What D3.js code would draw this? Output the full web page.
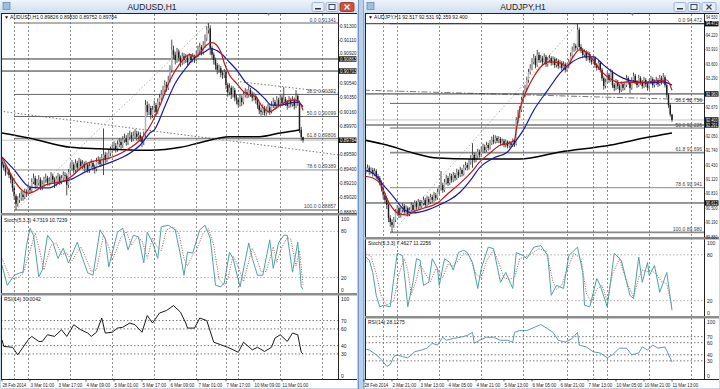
<!DOCTYPE html>
<html lang="en"><head>
<meta charset="utf-8">
<title>AUDUSD,H1 / AUDJPY,H1</title>
<script src="https://cdnjs.cloudflare.com/ajax/libs/d3/7.8.5/d3.min.js"></script>
<style>
body{margin:0;background:#c6d7ea;}
svg{display:block;font-family:"Liberation Sans",Arial,sans-serif;}
</style>
</head><body>
<svg width="720" height="389"></svg>
<script>
// ---------- AUDUSD,H1 ----------
var audusdOpen0 = .8950;
var audusdClose = [
 .8946,.8942,.8936,.8939,.8932,.8926,.8915,.8904,.8894,.8899,
 .8902,.8906,.8903,.8910,.8908,.8915,.8912,.8923,.8928,.8919,
 .8922,.8926,.8916,.8920,.8926,.8928,.8922,.8924,.8931,.8926,
 .8920,.8927,.8930,.8923,.8928,.8932,.8931,.8919,.8936,.8942,
 .8946,.8939,.8948,.8942,.8950,.8944,.8947,.8942,.8946,.8939,
 .8944,.8948,.8943,.8940,.8950,.8952,.8947,.8955,.8959,.8952,
 .8957,.8961,.8965,.8968,.8971,.8967,.8973,.8976,.8972,.8979,
 .8981,.8976,.8983,.8985,.8981,.8984,.8987,.8983,.8985,.8981,
 .8976,.8985,.9025,.9016,.9021,.9012,.9019,.9025,.9016,.9029,
 .9035,.9039,.9045,.9052,.9048,.9058,.9072,.9098,.9092,.9085,
 .9096,.9088,.9082,.9090,.9085,.9088,.9082,.9090,.9085,.9089,
 .9086,.9092,.9098,.9102,.9096,.9105,.9114,.9125,.9127,.9101,
 .9092,.9085,.9078,.9072,.9074,.9068,.9065,.9069,.9052,.9042,
 .9048,.9039,.9045,.9035,.9032,.9026,.9035,.9029,.9039,.9042,
 .9039,.9045,.9040,.9035,.9037,.9032,.9025,.9018,.9016,.9021,
 .9015,.9018,.9022,.9017,.9025,.9029,.9024,.9032,.9026,.9035,
 .9028,.9033,.9029,.9024,.9032,.9026,.9032,.9024,.9037,.9028,
 .8992,.89826,.89784];
var audusdHigh = [
 .8954,.8949,.8945,.8943,.8941,.8935,.8929,.8918,.8907,.8904,
 .8908,.8911,.8910,.8914,.8913,.8920,.8918,.8928,.8934,.8931,
 .8927,.8932,.8929,.8925,.8930,.8934,.8931,.8929,.8936,.8934,
 .8929,.8931,.8935,.8933,.8932,.8937,.8936,.8934,.8940,.8947,
 .8952,.8949,.8953,.8951,.8955,.8953,.8952,.8950,.8951,.8948,
 .8948,.8953,.8951,.8946,.8955,.8957,.8956,.8960,.8994,.8963,
 .8962,.8966,.8970,.8973,.8977,.8975,.8978,.8981,.8980,.8984,
 .8987,.8985,.8988,.8991,.8989,.8990,.8993,.8991,.8990,.8989,
 .8984,.8990,.9032,.9030,.9027,.9024,.9024,.9031,.9028,.9034,
 .9040,.9045,.9051,.9058,.9056,.9064,.9078,.9112,.9104,.9096,
 .9101,.9099,.9091,.9095,.9094,.9093,.9091,.9094,.9093,.9094,
 .9092,.9097,.9104,.9108,.9105,.9110,.9119,.9130,.9134,.9131,
 .9104,.9095,.9088,.9081,.9079,.9077,.9071,.9073,.9072,.9055,
 .9054,.9051,.9050,.9048,.9039,.9035,.9040,.9038,.9044,.9048,
 .9046,.9051,.9048,.9043,.9042,.9040,.9035,.9028,.9022,.9026,
 .9024,.9023,.9027,.9025,.9030,.9035,.9032,.9037,.9035,.9040,
 .9038,.9049,.9036,.9032,.9037,.9035,.9037,.9035,.9045,.9040,
 .9031,.8996,.89830];
var audusdLow = [
 .8942,.8938,.8931,.8933,.8928,.8921,.8910,.8899,.8886,.8890,
 .8895,.8898,.8898,.8900,.8903,.8905,.8907,.8909,.8920,.8914,
 .8915,.8918,.8912,.8912,.8916,.8922,.8918,.8918,.8920,.8922,
 .8915,.8917,.8923,.8919,.8920,.8925,.8926,.8905,.8915,.8932,
 .8938,.8934,.8935,.8937,.8939,.8940,.8940,.8937,.8938,.8935,
 .8935,.8941,.8938,.8934,.8937,.8946,.8943,.8944,.8932,.8948,
 .8949,.8953,.8957,.8961,.8964,.8962,.8963,.8969,.8967,.8968,
 .8975,.8971,.8972,.8979,.8976,.8977,.8980,.8978,.8979,.8976,
 .8969,.8972,.8982,.9011,.9012,.9006,.9008,.9015,.9011,.9013,
 .9025,.9031,.9035,.9041,.9043,.9045,.9055,.9068,.9086,.9079,
 .9081,.9083,.9076,.9078,.9080,.9081,.9078,.9079,.9081,.9082,
 .9081,.9083,.9089,.9094,.9091,.9092,.9101,.9110,.9120,.9092,
 .9086,.9079,.9072,.9066,.9068,.9062,.9060,.9061,.9046,.9036,
 .9038,.9033,.9035,.9030,.9026,.9022,.9023,.9024,.9026,.9035,
 .9034,.9035,.9036,.9030,.9031,.9027,.9020,.9013,.9011,.9012,
 .9011,.9011,.9014,.9012,.9014,.9021,.9019,.9020,.9022,.9023,
 .9024,.9025,.9024,.9019,.9021,.9022,.9023,.9019,.9021,.9024,
 .8988,.8978,.89752];
// moving averages as [bar, price]
var audusdMaRed = [[0,.8956],[15,.8908],[25,.8919],[37,.8926],[49,.8948],[62,.8955],[73,.8968],[79,.8979],[82,.8988],[85,.8999],[90,.9023],[96,.9058],[102,.9081],[107,.9092],[111,.9089],[113,.9094],[117,.9105],[120,.9108],[125,.9096],[127,.9081],[130,.9065],[134,.9054],[139,.9041],[145,.9036],[149,.9022],[153,.9016],[157,.9022],[162,.9029],[167,.9032],[170,.9029],[172,.9018]];
var audusdMaBlue = [[0,.8956],[7,.8939],[16,.8916],[22,.8915],[27,.8915],[33,.8922],[39,.8926],[50,.8939],[56,.8944],[62,.8949],[73,.8961],[79,.8972],[85,.8989],[87,.8992],[93,.9023],[99,.9054],[105,.9074],[110,.9088],[116,.9096],[119,.9100],[125,.9094],[130,.9082],[134,.9072],[139,.9056],[145,.9045],[150,.9034],[154,.9025],[159,.9025],[165,.9028],[169,.9029],[172,.9023]];
var audusdMaBlack = [[0,.8988],[16,.8981],[39,.8969],[56,.8967],[85,.8965],[102,.8969],[113,.8975],[130,.8983],[147,.8983],[159,.8988],[170,.8992]];
var audusdStochMain = [[0,36],[3,10],[7,23],[10,26],[12,27],[14,62],[16,84],[18,75],[21,21],[23,30],[26,75],[29,66],[32,45],[35,58],[38,39],[43,66],[46,45],[49,26],[52,23],[56,82],[59,71],[61,34],[66,79],[69,84],[72,56],[75,75],[78,73],[81,39],[83,79],[86,66],[89,45],[91,86],[95,88],[99,82],[102,49],[104,23],[106,53],[109,52],[113,82],[116,88],[119,71],[122,10],[125,8],[127,13],[130,53],[132,45],[136,8],[141,65],[143,45],[146,23],[149,23],[153,69],[155,32],[158,65],[161,75],[163,75],[166,27],[169,66],[171,8],[172,4.7]];
var audusdStochSignal = [[0,45],[5,18],[9,20],[12,25],[16,55],[19,78],[21,60],[24,30],[28,62],[31,65],[34,50],[37,52],[40,42],[45,60],[48,45],[51,28],[54,30],[58,75],[61,60],[63,42],[68,72],[71,80],[74,62],[77,72],[80,68],[83,45],[86,72],[88,62],[91,55],[94,82],[98,86],[101,78],[104,45],[106,35],[109,50],[111,55],[115,78],[118,84],[121,62],[124,18],[127,10],[129,18],[132,48],[134,40],[138,15],[143,58],[145,48],[148,28],[151,28],[155,60],[157,40],[160,60],[163,72],[165,70],[168,35],[170,55],[172,10.7]];
var audusdRsi = [[0,47],[1,39],[6,38],[9,29],[12,38],[15,47],[17,51],[21,45],[23,45],[26,53],[30,51],[34,59],[37,51],[41,65],[45,59],[49,55],[51,51],[54,56],[57,73],[59,55],[63,56],[66,61],[69,62],[73,67],[76,65],[80,56],[83,76],[86,67],[90,79],[94,82],[98,88],[102,80],[105,67],[106,61],[110,61],[113,73],[117,70],[121,44],[125,41],[129,38],[132,35],[135,32],[138,44],[143,35],[146,38],[150,33],[154,38],[156,49],[159,53],[163,45],[166,55],[169,53],[171,32],[172,30]];
var audusdTicks = [.8883,.8902,.8921,.8940,.8959,.8978,.8997,.9016,.9035,.9054,.9073,.9092,.9111,.9130];
var audusdHLines = [.90863,.90703];
var audusdBid = .89784;
var audusdFib = [[8,.88857],[118,.91341]];
var audusdTrend = [[[-1,.9017],[192,.8959]],[[136,.9056],[192,.9041]]];
var audusdGrid = [7,15,39,63,87,111,128,135,159,183];
var audusdDateBars = [0,16,32,48,64,80,96,112,128,144,160];
var audusdDates = ["28 Feb 2014","3 Mar 01:00","3 Mar 17:00","4 Mar 09:00","5 Mar 01:00","5 Mar 17:00","6 Mar 09:00","7 Mar 01:00","7 Mar 17:00","10 Mar 09:00","11 Mar 01:00"];

// ---------- AUDJPY,H1 ----------
var audjpyOpen0 = 91.25;
var audjpyClose = [
 91.28,91.32,91.37,91.28,91.32,91.24,91.30,91.19,91.15,91.06,
 90.93,90.78,90.68,90.57,90.29,90.20,90.14,90.25,90.42,90.50,
 90.35,90.46,90.55,90.42,90.50,90.38,90.46,90.57,90.46,90.61,
 90.53,90.63,90.55,90.61,90.68,90.57,90.70,90.63,90.74,90.68,
 90.78,90.72,90.85,90.93,91.00,90.89,91.06,91.15,91.04,91.19,
 91.11,91.21,91.15,91.28,91.21,91.32,91.24,91.37,91.43,91.37,
 91.49,91.58,91.65,91.54,91.62,91.71,91.65,91.75,91.82,91.75,
 91.86,91.80,91.90,91.97,91.93,92.01,91.95,91.99,91.90,91.95,
 91.86,91.93,91.84,91.90,91.86,91.95,91.88,92.40,92.51,92.61,
 92.83,92.94,93.09,93.26,93.43,93.52,93.65,93.73,93.58,93.80,
 93.69,93.73,93.65,93.76,93.60,93.69,93.73,93.63,93.71,93.58,
 93.67,93.56,93.63,93.52,93.60,93.48,93.56,93.65,93.78,93.91,
 93.99,93.95,94.34,93.97,93.91,93.80,93.86,93.73,93.82,93.69,
 93.65,93.73,93.58,93.52,93.63,93.48,93.30,93.13,93.22,93.37,
 93.26,93.43,93.15,93.09,93.22,93.13,93.04,93.17,93.09,93.15,
 93.30,93.22,93.09,93.26,93.35,93.22,93.15,93.30,93.22,93.13,
 93.26,93.17,93.09,93.22,93.28,93.15,93.20,93.26,93.17,93.30,
 93.22,93.32,93.15,92.94,92.72,92.517,92.400];
var audjpyHigh = [
 91.36,91.39,91.44,91.42,91.38,91.37,91.36,91.34,91.24,91.19,
 91.10,90.97,90.83,90.72,90.60,90.35,90.26,90.31,90.48,90.57,
 90.54,90.52,90.61,90.59,90.56,90.54,90.52,90.63,90.61,90.67,
 90.66,90.70,90.68,90.67,90.75,90.72,90.77,90.75,90.81,90.79,
 90.85,90.83,90.92,91.00,91.30,91.05,91.13,91.22,91.19,91.26,
 91.24,91.28,91.26,91.35,91.33,91.39,91.36,91.44,91.50,91.48,
 91.56,91.65,91.90,91.70,91.68,91.78,91.76,91.82,91.89,91.87,
 91.93,91.91,91.97,92.04,92.08,92.07,92.05,92.05,92.03,92.00,
 91.99,91.98,91.96,91.95,91.94,92.00,91.99,92.46,92.62,92.70,
 92.90,93.02,93.16,93.33,93.50,93.60,93.73,93.82,93.78,93.91,
 93.86,93.80,93.78,93.83,93.80,93.75,93.80,93.77,93.77,93.75,
 93.73,93.71,93.69,93.67,93.66,93.64,93.62,93.71,93.85,93.98,
 94.06,94.04,94.47,94.39,94.03,93.95,93.92,93.90,93.88,93.86,
 93.75,93.79,93.77,93.62,93.69,93.67,93.52,93.34,93.29,93.44,
 93.41,93.50,93.47,93.19,93.28,93.26,93.17,93.23,93.21,93.21,
 93.37,93.34,93.26,93.32,93.42,93.39,93.26,93.37,93.34,93.26,
 93.33,93.30,93.21,93.29,93.35,93.32,93.27,93.33,93.30,93.37,
 93.35,93.41,93.36,93.19,92.98,92.76,92.531];
var audjpyLow = [
 91.20,91.23,91.28,91.22,91.23,91.18,91.19,91.13,91.08,90.99,
 90.86,90.70,90.60,90.48,90.20,90.10,89.98,90.08,90.20,90.36,
 90.29,90.30,90.41,90.36,90.37,90.32,90.33,90.42,90.40,90.42,
 90.47,90.48,90.49,90.50,90.56,90.51,90.53,90.57,90.59,90.62,
 90.64,90.66,90.68,90.80,90.88,90.83,90.85,91.01,90.98,91.00,
 91.05,91.06,91.09,91.11,91.15,91.17,91.18,91.20,91.32,91.31,
 91.33,91.44,91.37,91.48,91.49,91.57,91.59,91.60,91.70,91.69,
 91.71,91.74,91.76,91.86,91.88,91.89,91.90,91.90,91.85,91.85,
 91.81,91.81,91.79,91.80,91.81,91.82,91.82,91.85,92.33,92.44,
 92.57,92.78,92.89,93.03,93.20,93.38,93.47,93.60,93.51,93.54,
 93.63,93.63,93.58,93.60,93.54,93.55,93.64,93.57,93.58,93.52,
 93.53,93.50,93.51,93.46,93.47,93.42,93.44,93.51,93.60,93.73,
 93.86,93.89,93.91,93.92,93.84,93.73,93.75,93.67,93.68,93.63,
 93.59,93.60,93.52,93.46,93.48,93.42,93.24,93.05,93.08,93.18,
 93.20,93.22,93.09,93.02,93.04,93.07,92.98,93.00,93.03,93.04,
 93.11,93.16,92.98,93.05,93.21,93.17,93.09,93.11,93.16,93.07,
 93.09,93.11,93.03,93.05,93.17,93.09,93.10,93.15,93.11,93.13,
 93.16,93.18,93.10,92.88,92.66,92.47,92.359];
var audjpyMaRed = [[0,91.19],[5,91.15],[9,91.04],[15,90.57],[19,90.40],[25,90.35],[28,90.42],[34,90.50],[42,90.61],[47,90.78],[55,91.04],[61,91.26],[66,91.49],[72,91.69],[78,91.86],[83,91.90],[86,91.97],[87,92.18],[89,92.61],[93,93.04],[97,93.33],[101,93.54],[106,93.65],[112,93.63],[116,93.54],[119,93.73],[123,93.91],[127,93.86],[131,93.69],[135,93.48],[139,93.33],[142,93.26],[146,93.20],[150,93.22],[156,93.20],[162,93.22],[167,93.24],[173,93.26],[176,93.04]];
var audjpyMaBlue = [[0,91.32],[5,91.26],[11,91.00],[17,90.74],[22,90.50],[28,90.40],[36,90.46],[43,90.57],[49,90.68],[55,90.85],[61,91.11],[66,91.37],[74,91.58],[82,91.71],[85,91.86],[91,92.18],[97,92.61],[105,93.04],[112,93.41],[119,93.65],[127,93.76],[131,93.76],[137,93.58],[142,93.43],[148,93.30],[156,93.22],[163,93.20],[171,93.22],[176,93.15]];
var audjpyMaBlack = [[0,91.97],[13,91.86],[28,91.69],[42,91.58],[61,91.56],[89,91.56],[112,91.71],[141,91.86],[160,92.01],[176,92.12]];
var audjpyStochMain = [[0,79],[3,73],[5,57],[7,27],[9,12],[11,14],[15,12],[17,49],[19,82],[22,79],[23,57],[25,12],[28,44],[30,75],[32,73],[34,40],[37,44],[39,75],[42,62],[43,40],[46,75],[49,70],[51,60],[54,83],[57,86],[59,83],[62,70],[65,36],[67,62],[71,90],[74,88],[78,44],[81,57],[85,36],[87,83],[91,79],[93,75],[97,90],[101,92],[105,79],[107,27],[110,40],[114,36],[117,79],[122,90],[125,57],[126,14],[129,12],[133,49],[135,40],[139,12],[143,82],[147,73],[152,27],[154,23],[157,77],[159,44],[162,70],[163,53],[166,66],[169,31],[173,57],[176,7.5]];
var audjpyStochSignal = [[0,82],[4,78],[7,55],[10,25],[13,14],[17,20],[20,55],[23,75],[25,60],[27,28],[30,48],[32,68],[35,55],[38,45],[41,62],[43,58],[45,50],[48,68],[51,65],[53,70],[57,82],[60,80],[64,55],[67,50],[70,72],[74,86],[77,70],[80,50],[83,48],[86,50],[89,75],[93,78],[96,82],[100,88],[104,85],[108,45],[110,35],[113,40],[116,60],[120,82],[124,75],[127,30],[130,18],[133,35],[136,40],[139,20],[142,55],[146,75],[150,45],[154,25],[157,50],[159,60],[162,58],[164,60],[167,55],[170,45],[173,42],[176,11.2]];
var audjpyRsi = [[0,50],[3,48],[7,40],[10,32],[13,21],[15,24],[17,37],[19,40],[22,37],[25,35],[29,45],[33,48],[36,51],[39,59],[42,56],[45,69],[47,64],[51,67],[55,69],[59,72],[62,77],[63,59],[66,64],[70,69],[74,69],[78,64],[82,64],[85,61],[86,77],[89,80],[93,80],[97,85],[101,90],[105,83],[108,77],[111,64],[115,61],[119,67],[122,77],[123,56],[127,53],[131,45],[135,43],[139,35],[142,40],[146,51],[150,51],[153,40],[157,43],[159,53],[162,48],[165,56],[168,51],[172,53],[176,28.1]];
var audjpyTicks = [89.88,90.19,90.50,90.81,91.12,91.43,91.74,92.05,92.36,92.67,92.98,93.29,93.60,93.91,94.22,94.53];
var audjpyHLines = [94.472,92.960,92.291,90.612];
var audjpyBid = 92.400;
var audjpyFib = [[16,89.980],[122,94.472]];
var audjpyTrend = [[[0,93.04],[194,92.83]]];
var audjpyGrid = [11,19,43,67,91,116,131,139,163,187];
var audjpyDateBars = [0,16,32,48,64,80,96,112,128,144,160,176];
var audjpyDates = ["28 Feb 2014","2 Mar 21:00","3 Mar 13:00","4 Mar 05:00","4 Mar 21:00","5 Mar 13:00","6 Mar 05:00","6 Mar 21:00","7 Mar 13:00","10 Mar 05:00","10 Mar 21:00","11 Mar 13:00"];

var fibLevels = [0, 38.2, 50, 61.8, 78.6, 100];
var stochLevels = [80, 20], stochLabels = [100, 80, 20, 0];
var rsiLevels = [70, 60, 40, 30], rsiLabels = [100, 70, 60, 40, 30, 0];

var svg = d3.select("svg");
var defs = svg.append("defs");
var tb = defs.append("linearGradient").attr("id", "tb").attr("x1", 0).attr("y1", 0).attr("x2", 0).attr("y2", 1);
tb.append("stop").attr("offset", "0%").attr("stop-color", "#eef4fb");
tb.append("stop").attr("offset", "100%").attr("stop-color", "#d0def0");

var charts = [
  {id: "l", title: "AUDUSD,H1", titleX: 152, info: "\u25BC AUDUSD,H1  0.89826 0.89830 0.89752 0.89784", active: true,
   left: 1, right: 357, plotRight: 338, xStart: 2, mainTop: 14, mainBottom: 213, stochTop: 216, stochBottom: 293,
   rsiTop: 295.5, rsiBottom: 379, tickY: [212, 26.1], fmt: d3.format(".5f"), labelW: 16.5,
   open0: audusdOpen0, close: audusdClose, high: audusdHigh, low: audusdLow,
   red: audusdMaRed, blue: audusdMaBlue, black: audusdMaBlack, ticks: audusdTicks, hLines: audusdHLines, bid: audusdBid,
   fib: audusdFib, trend: audusdTrend, trendDash: "1.5,2", grid: audusdGrid, dateBars: audusdDateBars, dates: audusdDates,
   stochMain: audusdStochMain, stochSignal: audusdStochSignal, rsi: audusdRsi, rsiColor: "#1a1a1a",
   stochText: "Stoch(5,3,3) 4.7319 10.7239", rsiText: "RSI(14) 30.0042"},
  {id: "r", title: "AUDJPY,H1", titleX: 523, info: "\u25BC AUDJPY,H1  92.517 92.531 92.359 92.400", active: false,
   left: 365, right: 719, plotRight: 704, xStart: 364, mainTop: 14, mainBottom: 237, stochTop: 239.5, stochBottom: 316,
   rsiTop: 318.5, rsiBottom: 379, tickY: [237, 21], fmt: d3.format(".3f"), labelW: 11.5,
   open0: audjpyOpen0, close: audjpyClose, high: audjpyHigh, low: audjpyLow,
   red: audjpyMaRed, blue: audjpyMaBlue, black: audjpyMaBlack, ticks: audjpyTicks, hLines: audjpyHLines, bid: audjpyBid,
   fib: audjpyFib, trend: audjpyTrend, trendDash: "6,2,1.5,2", grid: audjpyGrid, dateBars: audjpyDateBars, dates: audjpyDates,
   stochMain: audjpyStochMain, stochSignal: audjpyStochSignal, rsi: audjpyRsi, rsiColor: "#5b9bad",
   stochText: "Stoch(5,3,3) 7.4627 11.2256", rsiText: "RSI(14) 28.1275"}
];

// window frames
svg.append("rect").attr("x", 357).attr("y", 0).attr("width", 8).attr("height", 389).attr("fill", "#bcd0e8");
svg.append("line").attr("x1", 358.5).attr("x2", 358.5).attr("y1", 0).attr("y2", 389).attr("stroke", "#6f97c8");
svg.append("line").attr("x1", 363.5).attr("x2", 363.5).attr("y1", 0).attr("y2", 389).attr("stroke", "#8aa9d0");

charts.forEach(drawChart);

function drawButtons(g, xs, active) {
  xs.forEach(function(bx, k) {
    var close = k == 2;
    var w = close ? 14 : 12;
    g.append("rect").attr("x", bx).attr("y", 2.5).attr("width", w).attr("height", 9).attr("rx", 1.5)
      .attr("fill", close && active ? "#d0503f" : "#e6eef8")
      .attr("stroke", close && active ? "#8e2d22" : "#8fa6c4").attr("stroke-width", 0.8);
    var cx = bx + w / 2;
    if (k == 0) g.append("rect").attr("x", cx - 3).attr("y", 8).attr("width", 6).attr("height", 1.5).attr("fill", "#334");
    if (k == 1) g.append("rect").attr("x", cx - 3).attr("y", 4.5).attr("width", 6).attr("height", 5).attr("fill", "none").attr("stroke", "#334").attr("stroke-width", 0.9);
    if (k == 2) g.append("path").attr("d", "M" + (cx - 2.5) + ",4.5L" + (cx + 2.5) + ",9.5M" + (cx + 2.5) + ",4.5L" + (cx - 2.5) + ",9.5")
      .attr("stroke", active ? "#fff" : "#445").attr("stroke-width", 1.3);
  });
}

function drawChart(c) {
  var g = svg.append("g");
  var W = c.right - c.left;
  // title bar
  g.append("rect").attr("x", c.left - 1).attr("y", 0).attr("width", W + 2).attr("height", 13).attr("fill", "url(#tb)");
  g.append("text").attr("x", c.titleX).attr("y", 10).attr("text-anchor", "middle")
    .attr("font-size", 8.5).attr("fill", "#222").text(c.title);
  g.append("rect").attr("x", c.left + 2).attr("y", 2.5).attr("width", 7).attr("height", 7).attr("fill", "#9fbfe0").attr("stroke", "#5a82b4").attr("stroke-width", 0.7);
  drawButtons(g, [c.right - 45, c.right - 31, c.right - 17], c.active);
  // client
  g.append("rect").attr("x", c.left).attr("y", 13).attr("width", W).attr("height", 375).attr("fill", "#fff");

  var x = d3.scaleLinear().domain([0, 100]).range([c.xStart, c.xStart + 175]);
  var y = d3.scaleLinear().domain([c.ticks[0], c.ticks[c.ticks.length - 1]]).range(c.tickY);
  var ys = d3.scaleLinear().domain([0, 100]).range([c.stochBottom, c.stochTop]);
  var yr = d3.scaleLinear().domain([0, 100]).range([c.rsiBottom, c.rsiTop]);

  function clip(name, y0, y1) {
    defs.append("clipPath").attr("id", c.id + name).append("rect")
      .attr("x", c.left).attr("y", y0).attr("width", c.plotRight - c.left).attr("height", y1 - y0);
    return "url(#" + c.id + name + ")";
  }
  var gMain = g.append("g").attr("clip-path", clip("m", c.mainTop, c.mainBottom));
  var gSto = g.append("g").attr("clip-path", clip("s", c.stochTop - 2, c.stochBottom));
  var gRsi = g.append("g").attr("clip-path", clip("r", c.rsiTop - 2, c.rsiBottom));

  // vertical grid
  g.selectAll(null).data(c.grid).join("line")
    .attr("x1", function(d) { return Math.round(x(d)) + 0.5; }).attr("x2", function(d) { return Math.round(x(d)) + 0.5; })
    .attr("y1", c.mainTop).attr("y2", c.rsiBottom)
    .attr("stroke", "#6e6e6e").attr("stroke-width", 0.8).attr("stroke-dasharray", "2,2");

  // fib retracement
  var fLo = c.fib[0], fHi = c.fib[1];
  gMain.append("line").attr("x1", x(fLo[0])).attr("y1", y(fLo[1])).attr("x2", x(fHi[0])).attr("y2", y(fHi[1]))
    .attr("stroke", "#a0a0a0").attr("stroke-width", 0.8).attr("stroke-dasharray", "1.5,2");
  var fibs = fibLevels.map(function(l) { return {l: l, p: fHi[1] - (fHi[1] - fLo[1]) * l / 100}; });
  gMain.selectAll(null).data(fibs).join("line")
    .attr("x1", x(fLo[0]) - 2).attr("x2", c.plotRight).attr("y1", function(d) { return y(d.p); }).attr("y2", function(d) { return y(d.p); })
    .attr("stroke", function(d) { return d.l == 61.8 || d.l == 100 || d.l == 78.6 ? "#8a8a8a" : "#666"; })
    .attr("stroke-width", function(d) { return d.l == 61.8 || d.l == 100 ? 1.6 : 1; });
  gMain.selectAll(null).data(fibs).join("text")
    .attr("x", c.plotRight - 2).attr("y", function(d) { return y(d.p) - 1.5; }).attr("text-anchor", "end")
    .attr("font-size", 5).attr("fill", "#444")
    .text(function(d) { return d.l.toFixed(1) + " " + c.fmt(d.p); });

  // trend lines
  c.trend.forEach(function(t) {
    gMain.append("line").attr("x1", x(t[0][0])).attr("y1", y(t[0][1])).attr("x2", x(t[1][0])).attr("y2", y(t[1][1]))
      .attr("stroke", "#555").attr("stroke-width", 0.8).attr("stroke-dasharray", c.trendDash);
  });

  // horizontal lines + bid line
  gMain.selectAll(null).data(c.hLines).join("line")
    .attr("x1", c.left).attr("x2", c.plotRight).attr("y1", function(d) { return y(d); }).attr("y2", function(d) { return y(d); })
    .attr("stroke", "#303030").attr("stroke-width", 1);
  gMain.append("line").attr("x1", c.left).attr("x2", c.plotRight).attr("y1", y(c.bid)).attr("y2", y(c.bid))
    .attr("stroke", "#b8b8b8").attr("stroke-width", 0.8);

  // candles
  var bars = c.close.map(function(cl, i) {
    return {i: i, o: i ? c.close[i - 1] : c.open0, h: c.high[i], l: c.low[i], c: cl};
  });
  gMain.selectAll(null).data(bars).join("line")
    .attr("x1", function(d) { return x(d.i); }).attr("x2", function(d) { return x(d.i); })
    .attr("y1", function(d) { return y(d.h); }).attr("y2", function(d) { return y(d.l); })
    .attr("stroke", "#3a3a3a").attr("stroke-width", 0.9);
  gMain.selectAll(null).data(bars).join("rect")
    .attr("x", function(d) { return x(d.i) - 0.75; }).attr("width", 1.5)
    .attr("y", function(d) { return y(Math.max(d.o, d.c)); })
    .attr("height", function(d) { return Math.max(0.7, Math.abs(y(d.o) - y(d.c))); })
    .attr("fill", function(d) { return d.c >= d.o ? "#b4b4b4" : "#1e1e1e"; });

  // moving averages
  var ma = d3.line().x(function(d) { return x(d[0]); }).y(function(d) { return y(d[1]); }).curve(d3.curveMonotoneX);
  gMain.append("path").attr("d", ma(c.black)).attr("fill", "none").attr("stroke", "#000").attr("stroke-width", 1.5);
  gMain.append("path").attr("d", ma(c.blue)).attr("fill", "none").attr("stroke", "#1a1aa8").attr("stroke-width", 1.2);
  gMain.append("path").attr("d", ma(c.red)).attr("fill", "none").attr("stroke", "#c81414").attr("stroke-width", 1.2);

  // stochastic
  gSto.selectAll(null).data(stochLevels).join("line")
    .attr("x1", c.left).attr("x2", c.plotRight).attr("y1", ys).attr("y2", ys)
    .attr("stroke", "#9a9a9a").attr("stroke-width", 0.8).attr("stroke-dasharray", "1.5,2");
  var ls = d3.line().x(function(d) { return x(d[0]); }).y(function(d) { return ys(d[1]); });
  gSto.append("path").attr("d", ls(c.stochSignal)).attr("fill", "none").attr("stroke", "#a86060").attr("stroke-width", 0.9).attr("stroke-dasharray", "1.2,1.3");
  gSto.append("path").attr("d", ls(c.stochMain)).attr("fill", "none").attr("stroke", "#4fa2a2").attr("stroke-width", 1);

  // rsi
  gRsi.selectAll(null).data(rsiLevels).join("line")
    .attr("x1", c.left).attr("x2", c.plotRight).attr("y1", yr).attr("y2", yr)
    .attr("stroke", "#555").attr("stroke-width", 0.8).attr("stroke-dasharray", "1.5,2");
  var lr = d3.line().x(function(d) { return x(d[0]); }).y(function(d) { return yr(d[1]); });
  gRsi.append("path").attr("d", lr(c.rsi)).attr("fill", "none").attr("stroke", c.rsiColor).attr("stroke-width", 1);

  // frames and separators
  g.append("line").attr("x1", c.left).attr("x2", c.right).attr("y1", 13.5).attr("y2", 13.5).attr("stroke", "#222");
  g.append("line").attr("x1", c.left + 0.5).attr("x2", c.left + 0.5).attr("y1", 13).attr("y2", c.rsiBottom).attr("stroke", "#222");
  g.append("line").attr("x1", c.plotRight + 0.5).attr("x2", c.plotRight + 0.5).attr("y1", 13).attr("y2", c.rsiBottom).attr("stroke", "#222");
  [c.mainBottom, c.stochBottom].forEach(function(sy) {
    g.append("rect").attr("x", c.left).attr("y", sy).attr("width", W).attr("height", 2.5).attr("fill", "#8d8d8d");
  });
  g.append("line").attr("x1", c.left).attr("x2", c.right).attr("y1", c.rsiBottom + 0.5).attr("y2", c.rsiBottom + 0.5).attr("stroke", "#222");

  // price axis labels: ticks hidden under the line boxes are skipped,
  // ticks that only touch a box are nudged clear of it
  var boxes = c.hLines.concat([c.bid]);
  var shown = c.ticks.filter(function(t) {
    return boxes.every(function(b) { return Math.abs(y(t) - y(b)) > 2.5; });
  });
  function labelY(t) {
    var ty = y(t);
    boxes.forEach(function(b) {
      var d = ty - y(b);
      if (Math.abs(d) < 5.8) ty = y(b) + (d < 0 ? -5.8 : 5.8);
    });
    return ty + 1.6;
  }
  var ax = g.append("g").attr("font-size", 5).attr("fill", "#222");
  ax.selectAll(null).data(shown).join("text")
    .attr("x", c.plotRight + 2).attr("y", labelY)
    .attr("textLength", c.labelW).attr("lengthAdjust", "spacingAndGlyphs").text(c.fmt);
  ax.selectAll(null).data(c.ticks).join("line")
    .attr("x1", c.plotRight).attr("x2", c.plotRight + 1.5).attr("y1", y).attr("y2", y).attr("stroke", "#222").attr("stroke-width", 0.7);
  ax.selectAll(null).data(boxes).join("rect")
    .attr("x", c.plotRight + 1).attr("y", function(d) { return y(d) - 2.7; }).attr("width", c.right - c.plotRight - 1.5).attr("height", 5.4)
    .attr("fill", "#111");
  ax.selectAll(null).data(boxes).join("text")
    .attr("x", c.plotRight + 2).attr("y", function(d) { return y(d) + 1.6; }).attr("fill", "#fff")
    .attr("textLength", c.labelW).attr("lengthAdjust", "spacingAndGlyphs").text(c.fmt);

  // indicator axis labels
  ax.selectAll(null).data(stochLabels).join("text")
    .attr("x", c.plotRight + 3).attr("y", function(d) { return Math.min(c.stochBottom - 1.5, Math.max(c.stochTop + 5, ys(d) + 2)); }).text(String);
  ax.selectAll(null).data(rsiLabels).join("text")
    .attr("x", c.plotRight + 3).attr("y", function(d) { return Math.min(c.rsiBottom - 1.5, Math.max(c.rsiTop + 5, yr(d) + 2)); }).text(String);

  // date axis
  ax.selectAll(null).data(c.dateBars).join("line")
    .attr("x1", x).attr("x2", x).attr("y1", c.rsiBottom).attr("y2", c.rsiBottom + 2.5).attr("stroke", "#222").attr("stroke-width", 0.7);
  ax.selectAll(null).data(c.dateBars).join("text")
    .attr("x", function(d) { return x(d) + 0.5; }).attr("y", 386.5)
    .attr("textLength", function(d, i) { return c.dates[i].length * 2.15; }).attr("lengthAdjust", "spacingAndGlyphs")
    .text(function(d, i) { return c.dates[i]; });

  // panel captions
  var cap = g.append("g").attr("font-size", 5).attr("fill", "#111");
  cap.append("text").attr("x", c.left + 3).attr("y", 19).text(c.info);
  cap.append("text").attr("x", c.left + 3).attr("y", c.stochTop + 5.5).text(c.stochText);
  cap.append("text").attr("x", c.left + 3).attr("y", c.rsiTop + 5.5).text(c.rsiText);
  g.append("path").attr("d", "M" + (c.left + 266) + ",13.5l3,0l-1.5,2.5z").attr("fill", "#888");
}
</script>
</body>
</html>
